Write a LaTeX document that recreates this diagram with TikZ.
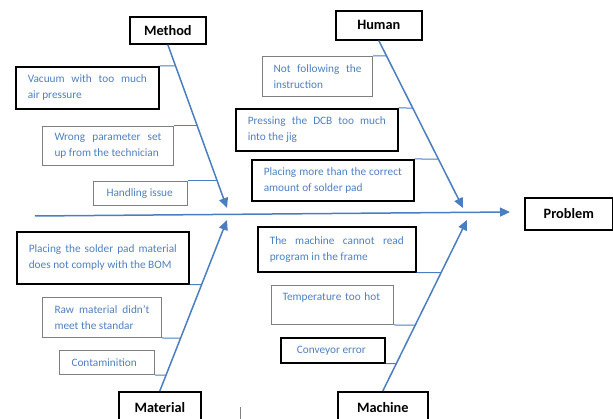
\documentclass[tikz,border=0pt]{standalone}
\usepackage{fontspec}
\setmainfont{Carlito}
\usetikzlibrary{arrows.meta,calc}
\definecolor{txtblue}{HTML}{4F7FC0}
\definecolor{lnblue}{HTML}{4A7EC1}
\definecolor{bgray}{HTML}{7F7F7F}
\begin{document}
\begin{tikzpicture}[x=1pt,y=-1pt,
  cause/.style={rectangle, anchor=north west, inner xsep=12pt, inner ysep=0pt,
    text=txtblue, font=\fontsize{11.3}{16}\selectfont, align=justify},
  blackbox/.style={cause, draw=black, line width=1.6pt},
  graybox/.style={cause, draw=bgray, line width=1pt},
  head/.style={rectangle, anchor=north west, draw=black, line width=1.6pt,
    font=\fontsize{14.3}{17}\bfseries\selectfont, inner sep=0pt},
  bone/.style={draw=lnblue, line width=1.5pt, -{Triangle[length=10pt,width=9pt]}},
  twig/.style={draw=lnblue, line width=1pt},
  cursor/.style={draw=gray, line width=1pt}]
\useasboundingbox (0,0) rectangle (613,419);

% category heads
\node[head, minimum width=76pt, minimum height=27pt] (method) at (129,16) {Method};
\node[head, minimum width=86pt, minimum height=29pt] (human) at (335,10) {Human};
\node[head, minimum width=82pt, minimum height=32pt] (material) at (118,391) {Material};
\node[head, minimum width=90pt, minimum height=32pt] (machine) at (337,391) {Machine};
\node[head, minimum width=88pt, minimum height=32pt] (problem) at (524,197) {Problem};

% tips
\coordinate (mtip) at (227,208);
\coordinate (htip) at (463,208);
\coordinate (matip) at (227,220);
\coordinate (mctip) at (467,220);
\coordinate (s0) at (35,216);
\coordinate (s1) at (510,212);

% causes
\node[blackbox, minimum width=143pt, minimum height=42pt, text width=119pt] (vac) at (15,66)
  {Vacuum with too much\linebreak air pressure};
\node[graybox, minimum width=131pt, minimum height=39pt, text width=107pt] (wrong) at (42,126)
  {Wrong parameter set\linebreak up from the technician};
\node[graybox, minimum width=94pt, minimum height=24pt, text width=68pt, inner xsep=13pt] (hand) at (93,181)
  {Handling issue};
\node[graybox, minimum width=110pt, minimum height=40pt, text width=88pt, inner xsep=11pt] (notf) at (262,56)
  {Not following the\linebreak instruction};
\node[blackbox, minimum width=162pt, minimum height=42pt, text width=138pt] (press) at (235,108)
  {Pressing the DCB too much\linebreak into the jig};
\node[blackbox, minimum width=162pt, minimum height=41pt, text width=138pt] (place) at (251,159)
  {Placing more than the correct\linebreak amount of solder pad};
\node[blackbox, minimum width=172pt, minimum height=52pt, text width=148pt] (solder) at (16,231)
  {Placing the solder pad material\linebreak does not comply with the BOM};
\node[graybox, minimum width=119pt, minimum height=40pt, text width=95pt] (raw) at (42,297)
  {Raw material didn’t\linebreak meet the standar};
\node[graybox, minimum width=95pt, minimum height=24pt, text width=71pt] (cont) at (59,350)
  {Contaminition};
\node[blackbox, minimum width=158pt, minimum height=45pt, text width=134pt] (mcread) at (257,226)
  {The machine cannot read\linebreak program in the frame};
\node[graybox, minimum width=122pt, minimum height=39pt, text width=100pt, inner xsep=11pt, align=left] (temp) at (271,285)
  {Temperature too hot\\~};
\node[blackbox, minimum width=104pt, minimum height=25pt, text width=72pt, inner xsep=16pt] (conv) at (280,337)
  {Conveyor error};

% main bones
\draw[bone] (s0) -- (s1);
\draw[bone] (method.south) -- (mtip);
\draw[bone] (human.south) -- (htip);
\draw[bone] (material.north) -- (matip);
\draw[bone] (machine.north) -- (mctip);

% twigs
\draw[twig] (vac.north east) -- (intersection of method.south--mtip and vac.north east--vac.north west);
\draw[twig] (wrong.north east) -- (intersection of method.south--mtip and wrong.north east--wrong.north west);
\draw[twig] (hand.north east) -- (intersection of method.south--mtip and hand.north east--hand.north west);
\draw[twig] (notf.north east) -- (intersection of human.south--htip and notf.north east--notf.north west);
\draw[twig] (press.north east) -- (intersection of human.south--htip and press.north east--press.north west);
\draw[twig] (place.north east) -- (intersection of human.south--htip and place.north east--place.north west);
\draw[twig] (solder.south east) -- (intersection of material.north--matip and solder.south east--solder.south west);
\draw[twig] (raw.south east) -- (intersection of material.north--matip and raw.south east--raw.south west);
\draw[twig] (cont.south east) -- (intersection of material.north--matip and cont.south east--cont.south west);
\draw[twig] (mcread.south east) -- (intersection of machine.north--mctip and mcread.south east--mcread.south west);
\draw[twig] (temp.south east) -- (intersection of machine.north--mctip and temp.south east--temp.south west);
\draw[twig] (conv.south east) -- (intersection of machine.north--mctip and conv.south east--conv.south west);

% stray cursor mark
\draw[cursor] (240,407) -- (240,419);
\end{tikzpicture}
\end{document}
